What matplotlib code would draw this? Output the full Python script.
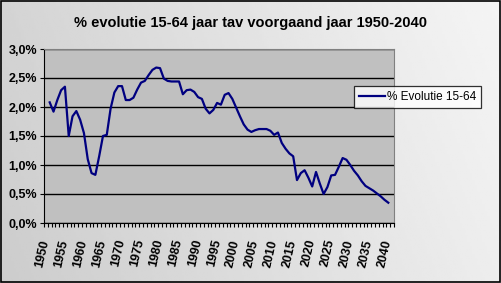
import numpy as np
import matplotlib
matplotlib.use("Agg")
import matplotlib.pyplot as plt
from matplotlib.ticker import FuncFormatter, MultipleLocator

# categories 1950..2041, data 1951..2040
years = list(range(1950, 2042))
evolutie = [
    None,
    2.08, 1.92, 2.12, 2.29, 2.35, 1.50, 1.84, 1.93, 1.78, 1.55,  # 1951-1960
    1.10, 0.86, 0.83, 1.15, 1.50, 1.52, 1.97, 2.25, 2.36, 2.36,  # 1961-1970
    2.12, 2.12, 2.16, 2.30, 2.42, 2.45, 2.55, 2.64, 2.68, 2.67,  # 1971-1980
    2.49, 2.45, 2.44, 2.44, 2.44, 2.22, 2.29, 2.30, 2.26, 2.17,  # 1981-1990
    2.14, 1.97, 1.89, 1.95, 2.07, 2.04, 2.21, 2.24, 2.14, 1.99,  # 1991-2000
    1.84, 1.70, 1.61, 1.57, 1.60, 1.62, 1.62, 1.62, 1.59, 1.52,  # 2001-2010
    1.56, 1.38, 1.28, 1.20, 1.15, 0.74, 0.86, 0.91, 0.78, 0.63,  # 2011-2020
    0.88, 0.68, 0.50, 0.62, 0.82, 0.83, 0.97, 1.12, 1.09, 1.00,  # 2021-2030
    0.90, 0.82, 0.72, 0.64, 0.60, 0.56, 0.51, 0.46, 0.40, 0.35,  # 2031-2040
    None,
]
label_years = list(range(1950, 2041, 5))

plt.rcParams['font.family'] = ['Liberation Sans', 'DejaVu Sans']

fig = plt.figure(figsize=(5.01, 2.83), dpi=100)

# gray gradient background
bg = fig.add_axes([0, 0, 1, 1], zorder=-10)
gx = np.linspace(0, 1, 200)
gy = np.linspace(0, 1, 120)
X, Y = np.meshgrid(gx, gy)
grad = 0.80 + 0.13 * X + 0.03 * (1 - Y)
bg.imshow(grad, cmap='gray', vmin=0, vmax=1, aspect='auto', extent=[0, 1, 0, 1], origin='upper')
bg.set_axis_off()
fig.patches.append(plt.Rectangle((0.001, 0.002), 0.997, 0.995, transform=fig.transFigure,
                                 fill=False, edgecolor='black', linewidth=1.2))

ax = fig.add_axes([44 / 501, 1 - 223 / 283, 350 / 501, 174 / 283])
ax.set_facecolor('#c0c0c0')

vals = np.array([np.nan if v is None else v for v in evolutie])
xs = np.arange(len(years)) + 0.5
ax.plot(xs, vals, color='#000080', linewidth=1.6, label='% Evolutie 15-64', zorder=3)

ax.set_xlim(0, len(years))
ax.set_ylim(0, 3.0)
ax.yaxis.set_major_locator(MultipleLocator(0.5))
ax.yaxis.set_major_formatter(FuncFormatter(lambda v, p: f"{v:.1f}%".replace('.', ',')))
ax.grid(axis='y', color='black', linewidth=1.0)
ax.set_axisbelow(True)

ax.set_xticks(np.arange(0, len(years) + 1), minor=True)
ax.set_xticks([years.index(y) + 0.5 for y in label_years])
ax.set_xticklabels([str(y) for y in label_years], rotation=77, ha='right', va='center',
                   rotation_mode='anchor', fontsize=9, fontweight='bold')
ax.tick_params(axis='x', which='major', length=0, pad=12)
ax.tick_params(axis='x', which='minor', length=3, width=0.8, color='black')
ax.tick_params(axis='y', length=3, width=0.8, labelsize=9, pad=2)
for lab in ax.get_yticklabels():
    lab.set_fontweight('bold')

for side in ['top', 'right']:
    ax.spines[side].set_color('#808080')
for side in ['left', 'bottom']:
    ax.spines[side].set_color('black')

fig.text(0.5, 1 - 23 / 283, '% evolutie 15-64 jaar tav voorgaand jaar 1950-2040',
         ha='center', va='center', fontsize=10.5, fontweight='bold')

leg = ax.legend(loc='center left', bbox_to_anchor=(354 / 501, 1 - 97 / 283),
                bbox_transform=fig.transFigure, fontsize=8.5, frameon=True, fancybox=False,
                handlelength=2.2, borderpad=0.4, handletextpad=0.2, borderaxespad=0)
leg.get_frame().set_edgecolor('black')
leg.get_frame().set_linewidth(0.9)

fig.savefig('out.png', dpi=100)
